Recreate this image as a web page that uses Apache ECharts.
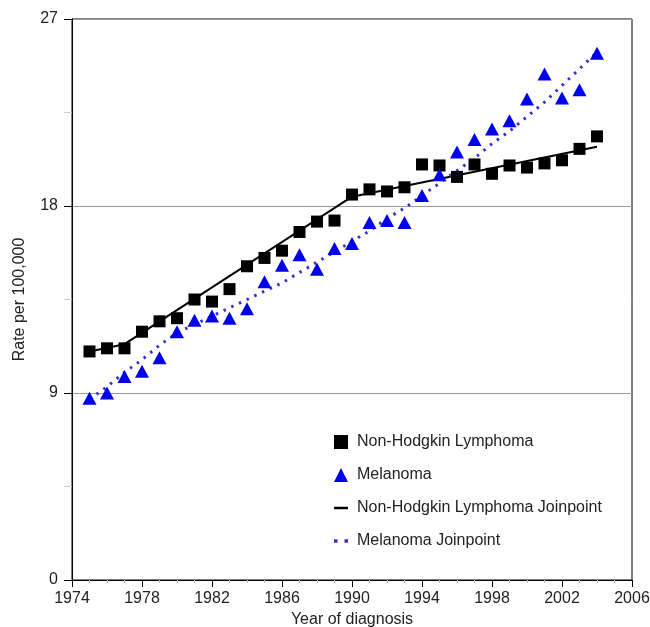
<!DOCTYPE html>
<html>
<head>
<meta charset="utf-8">
<script src="https://cdn.jsdelivr.net/npm/echarts@6/dist/echarts.min.js"></script>
<style>
html,body{margin:0;padding:0;background:#fff;}
#chart{width:650px;height:627px;}
</style>
</head>
<body>
<div id="chart"></div>
<script>
var years = [1975,1976,1977,1978,1979,1980,1981,1982,1983,1984,1985,1986,1987,1988,1989,
             1990,1991,1992,1993,1994,1995,1996,1997,1998,1999,2000,2001,2002,2003,2004];
var nhlRates = [11.0,11.15,11.15,11.95,12.45,12.6,13.5,13.4,14.0,15.1,15.5,15.85,16.75,17.25,17.3,
                18.55,18.8,18.7,18.9,20.0,19.95,19.4,20.0,19.55,19.95,19.85,20.05,20.2,20.75,21.35];
var melRates = [8.75,9.0,9.8,10.05,10.7,11.95,12.5,12.7,12.6,13.05,14.35,15.15,15.65,14.95,15.95,
                16.2,17.2,17.3,17.2,18.5,19.5,20.6,21.2,21.7,22.1,23.15,24.35,23.2,23.6,25.35];
var nhlJoinYears = [1975,1977,1990,2004];
var nhlJoinRates = [11.0,11.35,18.45,20.85];
var melJoinRates = [8.7,9.3,10.0,10.6,11.3,11.9,12.3,12.7,13.1,13.5,13.9,14.3,14.8,15.3,15.8,
                    16.3,16.8,17.4,17.9,18.5,19.1,19.7,20.3,21.0,21.6,22.3,23.0,23.8,24.6,25.4];
var yTicks = [0,9,18,27];

function pairs(xs, ys){ return xs.map(function(x,i){ return [x, ys[i]]; }); }

var chart = echarts.init(document.getElementById('chart'), null, {renderer:'canvas'});
var font = 'Liberation Sans, Arial, sans-serif';
chart.setOption({
  animation:false,
  backgroundColor:'#fff',
  grid:{left:72,right:18,top:19,bottom:47,show:true,borderColor:'#000',borderWidth:1,
        containLabel:false,outerBoundsMode:'none'},
  xAxis:{
    type:'value',min:1974,max:2006,interval:4,
    name:'Year of diagnosis',nameLocation:'middle',nameGap:30,
    nameTextStyle:{fontFamily:font,fontSize:16,color:'#222'},
    axisLine:{show:true,onZero:false,lineStyle:{color:'#000',width:1}},
    axisTick:{show:true,length:7,lineStyle:{color:'#000'}},
    minorTick:{show:true,splitNumber:4,length:3,lineStyle:{color:'#bbb'}},
    axisLabel:{margin:11,fontFamily:font,fontSize:16,color:'#222',showMaxLabel:true,showMinLabel:true,
               formatter:function(v){ return String(v); }},
    splitLine:{show:false}
  },
  yAxis:{
    type:'value',min:yTicks[0],max:yTicks[yTicks.length-1],interval:9,
    name:'Rate per 100,000',nameLocation:'middle',nameGap:44,
    nameTextStyle:{fontFamily:font,fontSize:16,color:'#222'},
    axisLine:{show:true,onZero:false,lineStyle:{color:'#000',width:1}},
    axisTick:{show:true,length:8,lineStyle:{color:'#000'}},
    minorTick:{show:true,splitNumber:2,length:8,lineStyle:{color:'#ccc'}},
    axisLabel:{margin:14,fontFamily:font,fontSize:16,color:'#222',formatter:function(v){ return String(v); }},
    splitLine:{show:true,lineStyle:{color:'#999',width:1}}
  },
  legend:{
    orient:'vertical',left:329,top:429,itemGap:17,itemWidth:14,itemHeight:14,padding:5,
    textStyle:{fontFamily:font,fontSize:16,color:'#222',lineHeight:16,padding:[0,0,0,4]},
    data:[
      {name:'Non-Hodgkin Lymphoma',icon:'rect',itemStyle:{color:'#000',opacity:1}},
      {name:'Melanoma',icon:'triangle',itemStyle:{color:'#0000ee',opacity:1}},
      {name:'Non-Hodgkin Lymphoma Joinpoint',icon:'path://M0,0 L14,0 L14,2.5 L0,2.5 Z'},
      {name:'Melanoma Joinpoint',icon:'path://M0,0 h3 v3 h-3 Z M9,0 h3 v3 h-3 Z'}
    ]
  },
  series:[
    {name:'Non-Hodgkin Lymphoma Joinpoint',type:'line',data:pairs(nhlJoinYears,nhlJoinRates),
     showSymbol:false,symbol:'none',color:'#000',lineStyle:{color:'#000',width:2},z:3},
    {name:'Melanoma Joinpoint',type:'line',data:pairs(years,melJoinRates),
     showSymbol:false,symbol:'none',color:'#3a2fd0',lineStyle:{color:'#3a2fd0',width:3,type:[2.5,6],cap:'butt'},z:3},
    {name:'Non-Hodgkin Lymphoma',type:'scatter',data:pairs(years,nhlRates),
     symbol:'rect',symbolSize:12,itemStyle:{color:'#000',opacity:1},z:4},
    {name:'Melanoma',type:'scatter',data:pairs(years,melRates),
     symbol:'triangle',symbolSize:[14,13],itemStyle:{color:'#0000ee',opacity:1},z:4}
  ]
});
</script>
</body>
</html>
